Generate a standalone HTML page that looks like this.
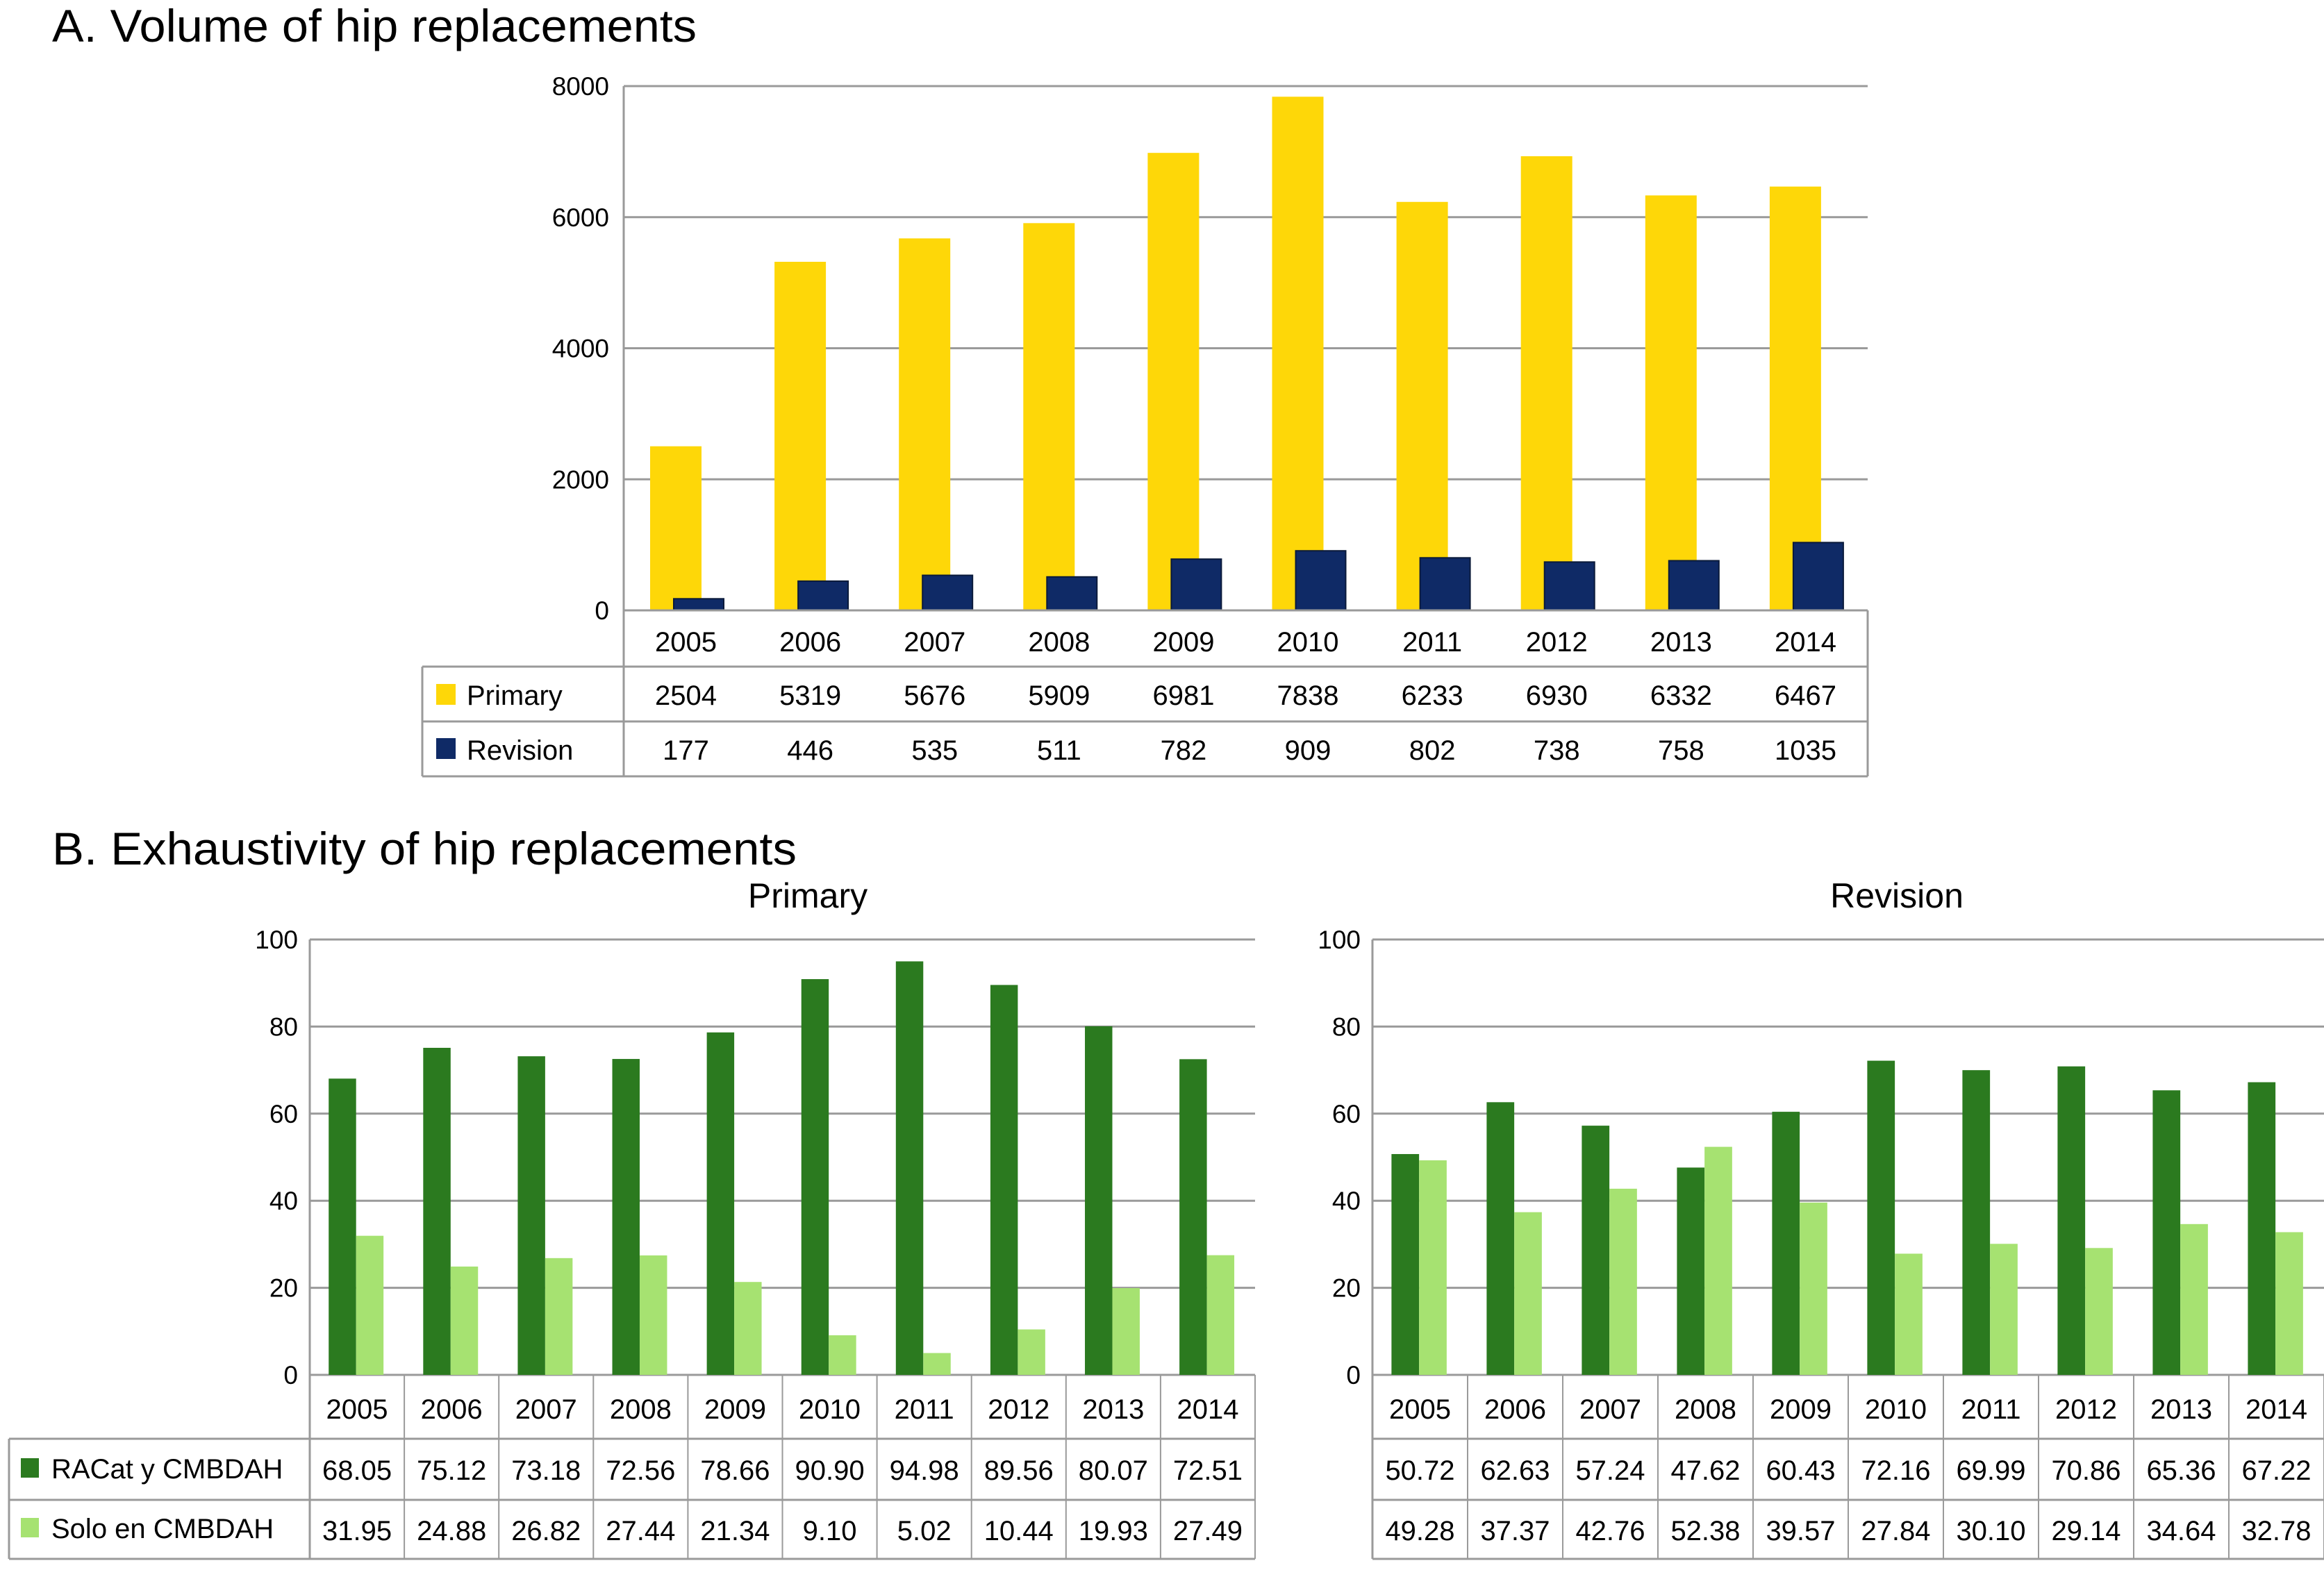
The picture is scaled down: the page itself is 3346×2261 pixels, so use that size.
<!DOCTYPE html>
<html><head><meta charset="utf-8"><style>
html,body{margin:0;padding:0;background:#fff;}
svg{display:block;font-family:"Liberation Sans",sans-serif;}
</style></head><body>
<svg id="fig" width="3346" height="2261" viewBox="0 0 3346 2261">
<text x="75" y="60" font-size="66" textLength="928" lengthAdjust="spacingAndGlyphs">A. Volume of hip replacements</text>
<text x="75" y="1245" font-size="66" textLength="1072" lengthAdjust="spacingAndGlyphs">B. Exhaustivity of hip replacements</text>
<text x="1163" y="1307" font-size="50" text-anchor="middle">Primary</text>
<text x="2731" y="1307" font-size="50" text-anchor="middle">Revision</text>
<g id="ga"></g><g id="gb1"></g><g id="gb2"></g>
</svg>
<script>
const years = ["2005","2006","2007","2008","2009","2010","2011","2012","2013","2014"];
const primaryVol = [2504,5319,5676,5909,6981,7838,6233,6930,6332,6467];
const revisionVol = [177,446,535,511,782,909,802,738,758,1035];
const ticksA = [0,2000,4000,6000,8000];
const primRacat = [68.05,75.12,73.18,72.56,78.66,90.90,94.98,89.56,80.07,72.51];
const primSolo = [31.95,24.88,26.82,27.44,21.34,9.10,5.02,10.44,19.93,27.49];
const revRacat = [50.72,62.63,57.24,47.62,60.43,72.16,69.99,70.86,65.36,67.22];
const revSolo = [49.28,37.37,42.76,52.38,39.57,27.84,30.10,29.14,34.64,32.78];
const ticksB = [0,20,40,60,80,100];
const NS="http://www.w3.org/2000/svg";
function mk(p,tag,attrs,txt){const e=document.createElementNS(NS,tag);for(const k in attrs)e.setAttribute(k,attrs[k]);if(txt!==undefined)e.textContent=txt;p.appendChild(e);return e;}
const GRID="#9a9a9a";

// Chart A
(function(){
const g=document.getElementById('ga');
const x0=898,x1=2689,yTop=124,yZero=879,max=8000;
const cw=(x1-x0)/years.length;
const y=v=>yZero-(v/max)*(yZero-yTop);
ticksA.forEach(t=>{
 const l=mk(g,'line',{x1:x0,x2:x1,y1:y(t),y2:y(t),stroke:GRID,'stroke-width':3});
 
 
 const tx=mk(g,'text',{x:877,y:y(t)+13,'font-size':37,'text-anchor':'end'},String(t));
 
 
});
const ax=mk(g,'line',{x1:x0,x2:x0,y1:yTop,y2:1118,stroke:GRID,'stroke-width':3});


years.forEach((yr,i)=>{
 const cx=x0+i*cw;
 const b1=mk(g,'rect',{x:cx+38,y:y(primaryVol[i]),width:74,height:yZero-y(primaryVol[i]),fill:'#fed708'});
 
 
 const b2=mk(g,'rect',{x:cx+72,y:y(revisionVol[i]),width:72,height:yZero-y(revisionVol[i]),fill:'#0f2a66',stroke:'#0a1a3a','stroke-width':2});
 
 
 const t1=mk(g,'text',{x:cx+cw/2,y:938,'font-size':40,'text-anchor':'middle'},yr);
 
 
 const t2=mk(g,'text',{x:cx+cw/2,y:1015,'font-size':40,'text-anchor':'middle'},String(primaryVol[i]));
 
 
 const t3=mk(g,'text',{x:cx+cw/2,y:1094,'font-size':40,'text-anchor':'middle'},String(revisionVol[i]));
 
 
});
[[879,x0],[960,608],[1039,608],[1118,608]].forEach(([yy,xs])=>{
 const l=mk(g,'line',{x1:xs,x2:x1,y1:yy,y2:yy,stroke:GRID,'stroke-width':3});
 
 
});
[[608,960],[x1,879]].forEach(([xx,ys])=>{
 const l=mk(g,'line',{x1:xx,x2:xx,y1:ys,y2:1118,stroke:GRID,'stroke-width':3});
 
 
});
const s1=mk(g,'rect',{x:628,y:985,width:28,height:30,fill:'#fed708'});


const l1=mk(g,'text',{x:672,y:1015,'font-size':40},'Primary');


const s2=mk(g,'rect',{x:628,y:1063,width:28,height:30,fill:'#0f2a66'});


const l2=mk(g,'text',{x:672,y:1094,'font-size':40},'Revision');


})();

// Chart B
function chartB(id,x0,x1,s1,s2,withLegend,tickRight,condensed){
 const g=document.getElementById(id);
 const yTop=1353,yZero=1980;
 const cw=(x1-x0)/years.length;
 const y=v=>yZero-(v/100)*(yZero-yTop);
 const fs=40;
 ticksB.forEach(t=>{
  const l=mk(g,'line',{x1:x0,x2:x1,y1:y(t),y2:y(t),stroke:GRID,'stroke-width':3});
  
  
  const tx=mk(g,'text',{x:tickRight,y:y(t)+13,'font-size':37,'text-anchor':'end'},String(t));
  
  
 });
 const ax=mk(g,'line',{x1:x0,x2:x0,y1:yTop,y2:2245,stroke:GRID,'stroke-width':3});
 
 
 years.forEach((yr,i)=>{
  const cx=x0+i*cw;
  const b1=mk(g,'rect',{x:cx+cw*0.2,y:y(s1[i]),width:cw*0.29,height:yZero-y(s1[i]),fill:'#2b7a1f'});
  
  
  const b2=mk(g,'rect',{x:cx+cw*0.49,y:y(s2[i]),width:cw*0.29,height:yZero-y(s2[i]),fill:'#a6e271'});
  
  
  const t1=mk(g,'text',{x:cx+cw/2,y:2043,'font-size':fs,'text-anchor':'middle'},yr);
  
  
  const t2=mk(g,'text',{x:cx+cw/2,y:2131,'font-size':fs,'text-anchor':'middle'},s1[i].toFixed(2));
  
  
  const t3=mk(g,'text',{x:cx+cw/2,y:2218,'font-size':fs,'text-anchor':'middle'},s2[i].toFixed(2));
  
  
  const v=mk(g,'line',{x1:cx+cw,x2:cx+cw,y1:yZero,y2:2245,stroke:GRID,'stroke-width':2});
  
  
 });
 const xs=withLegend?13:x0;
 [[2072],[2160],[2245]].forEach(([yy])=>{
  const l=mk(g,'line',{x1:xs,x2:x1,y1:yy,y2:yy,stroke:GRID,'stroke-width':3});
  
  
 });
 if(withLegend){
  const lb=mk(g,'line',{x1:13,x2:13,y1:2072,y2:2245,stroke:GRID,'stroke-width':3});
  
  
  const sw1=mk(g,'rect',{x:30,y:2100,width:26,height:28,fill:'#2b7a1f'});
  
  
  const lt1=mk(g,'text',{x:74,y:2129,'font-size':40},'RACat y CMBDAH');
  
  
  const sw2=mk(g,'rect',{x:30,y:2186,width:26,height:28,fill:'#a6e271'});
  
  
  const lt2=mk(g,'text',{x:74,y:2215,'font-size':40},'Solo en CMBDAH');
  
  
 }
}
chartB('gb1',446,1807,primRacat,primSolo,true,429);
chartB('gb2',1976,3346,revRacat,revSolo,false,1959);
</script>
</body></html>
